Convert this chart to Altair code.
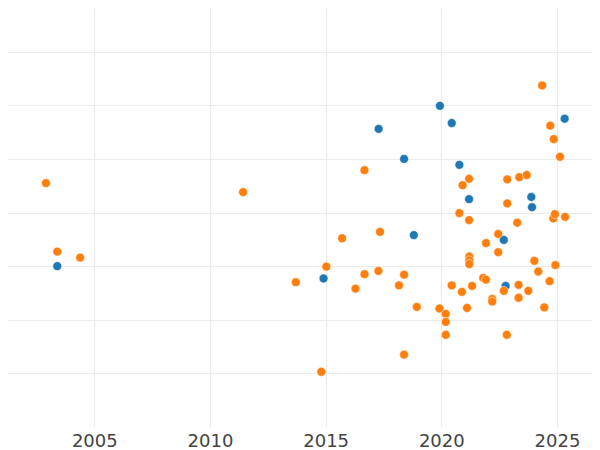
import altair as alt
import pandas as pd

# Series values (x = decimal year, y = value on an unlabeled axis)
blue_year = [2003.40, 2014.91, 2017.29, 2018.39, 2018.81, 2019.94, 2020.45, 2020.78,
             2021.20, 2022.70, 2022.78, 2023.89, 2023.92, 2025.33]
blue_value = [2.00, 1.77, 4.56, 4.00, 2.58, 4.99, 4.67, 3.89,
              3.25, 2.49, 1.63, 3.29, 3.10, 4.75]

orange_year = [2002.91, 2003.40, 2004.39, 2011.43, 2013.71, 2014.81, 2015.03, 2015.71,
               2016.29, 2016.68, 2016.68, 2017.28, 2017.35, 2018.17, 2018.39, 2018.39,
               2018.94, 2019.92, 2020.19, 2020.19, 2020.19, 2020.45, 2020.78, 2020.89,
               2020.92, 2021.11, 2021.20, 2021.20, 2021.21, 2021.21, 2021.21, 2021.33,
               2021.81, 2021.93, 2021.93, 2022.20, 2022.20, 2022.46, 2022.46, 2022.70,
               2022.85, 2022.85, 2022.83, 2023.28, 2023.37, 2023.34, 2023.34, 2023.69,
               2023.76, 2024.02, 2024.19, 2024.36, 2024.45, 2024.68, 2024.71, 2024.84,
               2024.86, 2024.91, 2024.93, 2025.13, 2025.35]
orange_value = [3.55, 2.27, 2.16, 3.38, 1.70, 0.03, 1.99, 2.52,
                1.58, 3.79, 1.85, 1.91, 2.64, 1.64, 1.84, 0.35,
                1.24, 1.21, 1.11, 0.96, 0.72, 1.64, 2.99, 1.52,
                3.51, 1.22, 3.63, 2.86, 2.18, 2.11, 2.04, 1.63,
                1.78, 2.43, 1.75, 1.39, 1.34, 2.60, 2.26, 1.54,
                3.62, 3.17, 0.72, 2.81, 3.66, 1.41, 1.65, 3.70,
                1.54, 2.10, 1.90, 5.37, 1.23, 1.72, 4.62, 2.89,
                4.37, 2.97, 2.02, 4.04, 2.92]

x_ticks = [2005, 2010, 2015, 2020, 2025]
y_ticks = [0, 1, 2, 3, 4, 5, 6]
groups = ["blue", "orange"]
colors = ["#1f77b4", "#ff7f0e"]

df = pd.concat([
    pd.DataFrame({"year": blue_year, "value": blue_value, "group": groups[0]}),
    pd.DataFrame({"year": orange_year, "value": orange_value, "group": groups[1]}),
], ignore_index=True)

chart = alt.Chart(df).mark_circle(size=78, opacity=1, stroke="white", strokeWidth=0.5).encode(
    x=alt.X("year:Q",
            scale=alt.Scale(domain=[2001.27, 2026.513], nice=False, zero=False),
            axis=alt.Axis(values=x_ticks, format="d", title=None, ticks=False, domain=False,
                          labelFontSize=18, labelFont="DejaVu Sans", labelColor="#444444",
                          labelPadding=5, gridColor="#ebebeb", gridWidth=1.2)),
    y=alt.Y("value:Q",
            scale=alt.Scale(domain=[-1, 6.815], nice=False, zero=False),
            axis=alt.Axis(values=y_ticks, labels=False, ticks=False, domain=False, title=None,
                          gridColor="#ebebeb", gridWidth=1.2)),
    color=alt.Color("group:N", scale=alt.Scale(domain=groups, range=colors), legend=None),
).properties(
    width=584,
    height=419,
    autosize=alt.AutoSizeParams(type="none"),
    padding={"left": 0, "top": 0, "right": 0, "bottom": 26},
).configure_view(strokeWidth=0)

chart.save("out.html", embed_options={"renderer": "svg", "actions": False})
